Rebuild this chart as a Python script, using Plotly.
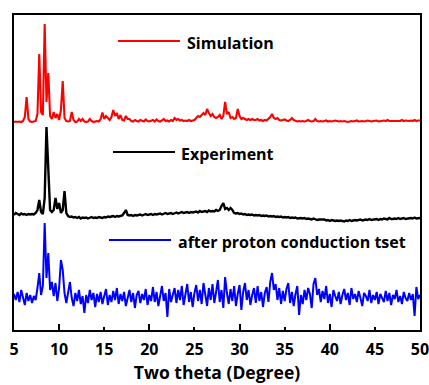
import numpy as np
import plotly.graph_objects as go

# 2-theta sampling grid (degrees), 0.2 deg step from 5 to 50
two_theta = np.round(np.arange(5.0, 50.0001, 0.2), 2)

# Simulated pattern (a.u., above its own baseline)
simulation = [
    0, 0.5, 0, 0.5, 0, 1, 5, 25, 3, 0.5,
    0, 0.5, 1, 8, 68, 10, 7, 98, 20, 49,
    6, 3, 10, 4, 8, 2, 12, 41, 4, 1,
    0.5, 1, 10, 2, 0, 0.5, 3, 1, 3, 0.5,
    0, 0.5, 3, 1, 0, 0.5, 1, 0.5, 3, 9.5,
    3, 6, 4, 2, 5, 12, 6, 9, 3, 7,
    2, 1.5, 6, 3, 3, 1, 0.5, 2, 1, 0.5,
    2, 1, 0.5, 2.5, 1, 0.5, 1, 2, 0.5, 2.5,
    1, 0.5, 1.5, 3, 1, 1.5, 0.5, 2, 1, 4,
    2, 3, 1.5, 2, 1, 1.5, 1, 2, 1, 1.5,
    2, 4, 6, 5, 7, 9, 7, 13, 9, 6,
    8, 5, 4, 5, 7, 3, 6, 20, 8, 10,
    4, 5, 3, 4, 13, 6, 3, 4, 3, 2,
    3, 2, 3, 2, 2, 3, 1.5, 2, 1, 2,
    1.5, 3, 5, 8, 4, 3, 4, 2, 1.5, 2,
    2.5, 1.5, 1, 2, 4, 2, 1, 0.5, 1, 0.5,
    1, 0.5, 1, 2, 1, 0.5, 1, 3, 1, 0.5,
    1, 0.5, 1, 1.5, 0.5, 1, 0.5, 1, 1.5, 1,
    0.5, 1, 0.5, 1, 0.5, 0, 0.5, 1, 0.5, 1,
    1.5, 0.5, 1, 1, 0.5, 1, 1.5, 1, 0.5, 1,
    1, 1.5, 0.5, 1, 1, 1.5, 1, 2, 1, 1,
    1.5, 1, 1, 1.5, 1, 2, 1, 1.5, 1, 1,
    1.5, 1, 2, 1, 1.5, 1.5,
]

# Experimental pattern (a.u.)
experiment = [
    3, 5, 4, 3, 4.5, 3.5, 4, 3, 4, 3.5,
    4, 3.5, 5, 8, 18, 6, 4, 20, 91, 48,
    8, 6, 8, 20, 9, 15, 5, 8, 27, 5,
    2, 1, 1.5, 0.5, 1, 0, 1, -0.5, 0.5, 0,
    0.5, -0.5, 0, 1, 0, 0.5, 0, 1, 0.5, 0,
    1, 0.5, 1.5, 1, 1.5, 2, 1, 2, 1.5, 2,
    2.5, 5, 8, 3, 2.5, 3, 2, 3, 2.5, 3,
    3.5, 2.5, 3, 4, 3, 3.5, 4, 3, 4, 3.5,
    4, 4.5, 3.5, 4, 5, 4, 4.5, 5, 4, 5,
    5.5, 4.5, 5, 6, 5, 5.5, 6, 5, 6, 5.5,
    6, 6.5, 5.5, 7, 6, 6.5, 7, 6, 7.5, 6.5,
    7, 6.5, 8, 7, 8, 12, 15, 9, 10, 8,
    10, 8, 5, 4.5, 5, 4, 4.5, 3.5, 4, 3,
    3.5, 3, 3.5, 2.5, 3, 2.5, 3, 2, 2.5, 2,
    2.5, 1.5, 2, 1.5, 2, 1, 1.5, 1, 1.5, 0.5,
    1, 0.5, 1, 0, 0.5, 0, 0.5, -0.5, 0, 0,
    -0.5, 0, -1, -0.5, -1, -1.5, -0.5, -1, -2, -1.5,
    -1.5, -2, -1.5, -2.5, -2, -3, -2, -2.5, -3, -2.5,
    -3, -2.5, -3, -3.5, -2.5, -3, -2, -3, -2.5, -2,
    -2.5, -2, -1.5, -2.5, -2, -1.5, -2, -1, -2, -1.5,
    -1.5, -1, -2, -1, -1.5, -0.5, -1, -1.5, 0, -1,
    -1, -0.5, -1, 0, -1, -0.5, 0, -1, -0.5, -0.5,
    0, -0.5, 0.5, -0.5, 0, 0,
]

# After proton conduction test (a.u.)
after_test = [
    4, -2, 6, -4, 8, 0, -7, 5, -3, 3,
    -5, 2, -2, 10, 25, 3, 12, 75, 20, 45,
    8, 16, 2, 15, -3, 10, 38, 28, 5, -5,
    6, 16, 0, -8, 5, -3, 8, -6, 2, -15,
    3, -5, 8, -2, 5, -9, 4, -4, 6, -6,
    2, 9, -7, 3, -4, 7, -2, 10, -6, 4,
    -3, 6, -8, 2, 8, -4, 5, -10, 3, 7,
    -5, 4, -2, 9, -7, 3, -3, 11, -4, 6,
    -8, 2, 12, -3, 5, -19, 9, -4, 4, 10,
    -5, 8, -2, 12, -7, 3, 14, -4, 6, -9,
    5, 13, -3, 8, -6, 15, 2, -8, 10, -2,
    14, -5, 6, 18, -4, 8, -10, 21, 5, -6,
    9, -3, 12, -8, 4, 13, -12, 6, 15, -2,
    8, -7, 3, 10, -5, 12, -3, 6, -9, 5,
    11, -4, 16, 25, 8, 14, -2, 10, -6, 7,
    -3, 9, 15, -5, 6, -8, 4, 12, -17, 3,
    -6, 8, -2, 10, 4, -10, 14, 20, 3, 9,
    -4, 7, -1, 12, -5, 4, -9, 8, 2, -3,
    6, -6, 3, 9, -2, 5, -7, 10, -1, 4,
    -4, 7, 0, -8, 5, 2, -3, 8, -5, 3,
    -2, 6, -6, 4, 0, -4, 7, -3, 5, -7,
    3, -1, 8, -4, 2, -6, 6, 0, -3, 5,
    -2, 4, -18, 11, -1, 3,
]

series_names = ["Simulation", "Experiment", "after proton conduction tset"]
series_colors = ["#ff0000", "#000000", "#0000ff"]
series_offsets = [208, 112, 32]
x_ticks = [5, 10, 15, 20, 25, 30, 35, 40, 45, 50]

W, H = 429, 385
L, R, T, B = 14, 9, 15, 55
PW, PH = W - L - R, H - T - B


def px(x):
    return (x - L) / PW


def py(y):
    return (H - B - y) / PH


fig = go.Figure()
for vals, name, col, off, lw in zip([simulation, experiment, after_test],
                                    series_names, series_colors, series_offsets,
                                    [2.1, 2.4, 2.0]):
    fig.add_trace(go.Scatter(x=two_theta, y=np.array(vals, dtype=float) + off,
                             mode="lines", name=name,
                             line=dict(color=col, width=lw),
                             showlegend=False, hoverinfo="skip"))

# invisible trace on overlay axis to carry major ticks
fig.add_trace(go.Scatter(x=[5, 50], y=[0, 0], xaxis="x2", mode="lines",
                         line=dict(width=0), showlegend=False, hoverinfo="skip"))

font_family = "Open Sans"
fig.update_layout(
    width=W, height=H,
    margin=dict(l=L, r=R, t=T, b=B, pad=0),
    paper_bgcolor="white", plot_bgcolor="white",
    xaxis=dict(range=[5, 50], tickmode="array", tickvals=x_ticks,
               ticktext=[str(v) for v in x_ticks], automargin=False,
               ticklabeloverflow="allow", ticklabelstandoff=4,
               ticks="inside", ticklen=3, tickwidth=1.5, tickcolor="black",
               showline=True, linewidth=2, linecolor="black", mirror=True,
               showgrid=False, zeroline=False,
               tickfont=dict(family=font_family, size=16, color="black", weight="bold"),
               title=dict(text="Two theta (Degree)", standoff=6,
                          font=dict(family=font_family, size=17.5, color="black", weight="bold"))),
    xaxis2=dict(range=[5, 50], overlaying="x", side="bottom", tickmode="array",
                tickvals=[10, 20, 30, 40], ticks="inside", ticklen=6, tickwidth=1.5,
                tickcolor="black", showticklabels=False, showline=False,
                showgrid=False, zeroline=False, automargin=False),
    yaxis=dict(range=[0, 315], showticklabels=False, ticks="", automargin=False,
               showline=True, linewidth=2, linecolor="black", mirror=True,
               showgrid=False, zeroline=False),
)

legend_items = [
    (118, 180, 41, 185, 43),
    (113, 175, 152, 179, 154),
    (109, 171, 240, 176, 242),
]
for (x0, x1, yl, xt, yt), name, col in zip(legend_items, series_names, series_colors):
    fig.add_shape(type="line", xref="paper", yref="paper",
                  x0=px(x0), x1=px(x1), y0=py(yl), y1=py(yl),
                  line=dict(color=col, width=2))
    fig.add_annotation(xref="paper", yref="paper", x=px(xt), y=py(yt),
                       text=name, showarrow=False, xanchor="left", yanchor="middle",
                       font=dict(family=font_family, size=16, color="black", weight="bold"))

fig.write_html("out.html")
